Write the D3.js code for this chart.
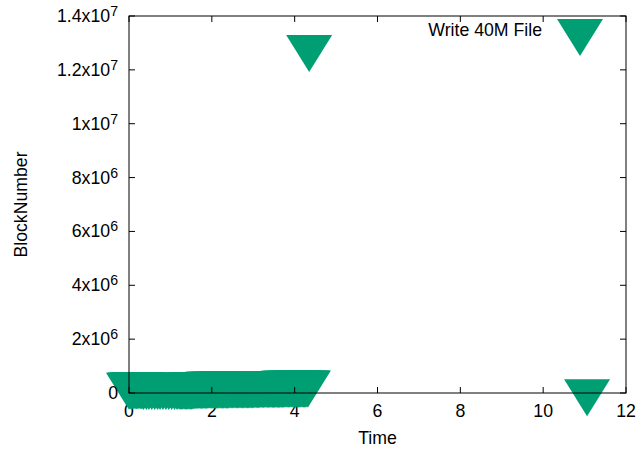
<!DOCTYPE html>
<html><head><meta charset="utf-8">
<script src="https://cdn.jsdelivr.net/npm/d3@7"></script>
<style>body{margin:0;background:#fff}svg{display:block;font-family:"Liberation Sans",Arial,sans-serif}</style>
</head><body><svg id="c" width="644" height="450"></svg>
<script>
const seriesName = "Write 40M File";
const xLabel = "Time";
const yLabel = "BlockNumber";
const xTicks = [0, 2, 4, 6, 8, 10, 12];
const yTicks = [0, 2e6, 4e6, 6e6, 8e6, 1e7, 1.2e7, 1.4e7];
const yTickMant = ["0", "2x10", "4x10", "6x10", "8x10", "1x10", "1.2x10", "1.4x10"];
const yTickExp = ["", "6", "6", "6", "6", "7", "7", "7"];

const writeTimes = [
  0.00, 0.03, 0.06, 0.09, 0.12, 0.15, 0.18, 0.21, 0.24, 0.27, 0.30, 0.33,
  0.35, 0.42, 0.48, 0.55, 0.62, 0.69, 0.75, 0.82, 0.89, 0.96, 1.03, 1.10, 1.16,
  1.21, 1.24, 1.27, 1.30, 1.33, 1.36, 1.39, 1.42, 1.45, 1.48,
  1.51, 1.54, 1.57, 1.60, 1.63, 1.66, 1.69, 1.72, 1.75, 1.78,
  1.81, 1.84, 1.87, 1.90, 1.93, 1.96, 1.99, 2.02, 2.05, 2.08,
  2.11, 2.14, 2.17, 2.20, 2.23, 2.26, 2.29, 2.32, 2.35, 2.38,
  2.41, 2.44, 2.47, 2.50, 2.53, 2.56, 2.59, 2.62, 2.65, 2.68,
  2.71, 2.74, 2.77, 2.80, 2.83, 2.86, 2.89, 2.92, 2.95, 2.98,
  3.01, 3.04, 3.07, 3.10, 3.13, 3.16, 3.19, 3.22, 3.25, 3.28,
  3.31, 3.34, 3.37, 3.40, 3.43, 3.46, 3.49, 3.52, 3.55, 3.58,
  3.61, 3.64, 3.67, 3.70, 3.73, 3.76, 3.79, 3.82, 3.85, 3.88,
  3.91, 3.94, 3.97, 4.00, 4.03, 4.06, 4.09, 4.12, 4.15, 4.18,
  4.21, 4.24, 4.27, 4.30, 4.32,
  4.35, 11.06
];
const writeBlocks = [
  290000, 300000, 305000, 308000, 310000, 312000, 313000, 314000, 315000, 316000, 317000, 318000,
  282000, 282500, 283000, 283500, 284000, 284500, 285000, 285500, 286000, 286500, 287000, 287500, 288000,
  293000, 293500, 294000, 294500, 295000, 295500, 296000, 296500, 297000, 297500,
  298000, 299000, 300000, 322000, 322500, 323000, 323500, 324000, 324500, 325000,
  325500, 326000, 326500, 327000, 327500, 328000, 328500, 329000, 329500, 330000,
  330500, 331000, 331500, 332000, 332500, 333000, 333500, 334000, 334500, 335000,
  335500, 336000, 336500, 337000, 337500, 338000, 338500, 339000, 339500, 340000,
  340500, 341000, 341500, 342000, 342500, 343000, 343500, 344000, 344500, 345000,
  345500, 346000, 346500, 347000, 347500, 348000, 355000, 355500, 356000, 356500,
  357000, 357500, 358000, 358500, 359000, 359500, 360000, 360500, 361000, 361500,
  362000, 362500, 363000, 363500, 364000, 364500, 365000, 365500, 366000, 366500,
  367000, 367500, 368000, 368500, 369000, 369500, 370000, 370500, 371000, 371500,
  372000, 372500, 373000, 373500, 374000,
  12840000, 50000
];

const color = "#009e73";
const fontSize = 17.7;
const svg = d3.select("#c");
const L = 129, R = 626, T = 16, B = 393;
const x = d3.scaleLinear().domain([0, 12]).range([L, R]);
const y = d3.scaleLinear().domain([0, 1.4e7]).range([B, T]);

const tri = (() => { const p = d3.path(); p.moveTo(-23, -12.33); p.lineTo(23, -12.33); p.lineTo(0, 24.67); p.closePath(); return p.toString(); })();

// x tick labels (drawn under points)
svg.append("g").selectAll("text").data(xTicks).join("text")
  .attr("x", d => x(d)).attr("y", 417).attr("text-anchor", "middle")
  .attr("font-size", fontSize).attr("fill", "#000").text(d => d);

// points
const pts = writeTimes.map((t, i) => [t, writeBlocks[i]]);
svg.append("g").selectAll("path").data(pts).join("path")
  .attr("d", tri).attr("fill", color)
  .attr("transform", d => `translate(${x(d[0])},${y(d[1])})`);

// legend
svg.append("text").attr("x", 542).attr("y", 36).attr("text-anchor", "end")
  .attr("font-size", fontSize).text(seriesName);
svg.append("path").attr("d", tri).attr("fill", color).attr("transform", "translate(580,31.3)");

// border and ticks (mirrored)
const g = svg.append("g").attr("stroke", "#000").attr("stroke-width", 1).attr("fill", "none");
const tl = 6;
xTicks.forEach(v => {
  g.append("line").attr("x1", x(v)).attr("x2", x(v)).attr("y1", B).attr("y2", B - tl);
  g.append("line").attr("x1", x(v)).attr("x2", x(v)).attr("y1", T).attr("y2", T + tl);
});
yTicks.forEach(v => {
  g.append("line").attr("x1", L).attr("x2", L + tl).attr("y1", y(v)).attr("y2", y(v));
  g.append("line").attr("x1", R).attr("x2", R - tl).attr("y1", y(v)).attr("y2", y(v));
});
g.append("rect").attr("x", L).attr("y", T).attr("width", R - L).attr("height", B - T);

// y tick labels
const yl = svg.append("g").selectAll("text").data(yTicks).join("text")
  .attr("x", 118).attr("y", d => y(d) + 6).attr("text-anchor", "end")
  .attr("font-size", fontSize).attr("fill", "#000");
yl.append("tspan").text((d, i) => yTickMant[i]);
yl.append("tspan").attr("dy", -6).attr("font-size", fontSize * 0.8).text((d, i) => yTickExp[i]);

// axis titles
svg.append("text").attr("x", (L + R) / 2).attr("y", 444).attr("text-anchor", "middle")
  .attr("font-size", fontSize).text(xLabel);
svg.append("text").attr("transform", `translate(27,${(T + B) / 2}) rotate(-90)`)
  .attr("text-anchor", "middle").attr("font-size", fontSize).text(yLabel);
</script></body></html>
